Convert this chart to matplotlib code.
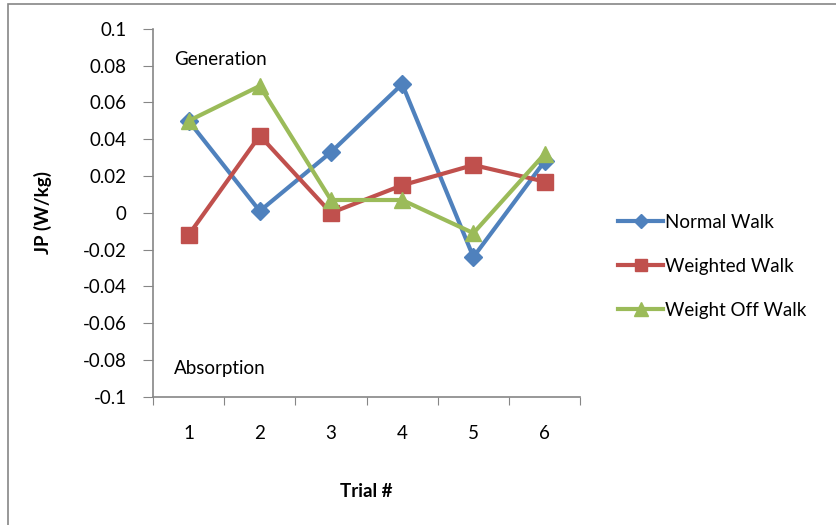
import matplotlib
matplotlib.use("Agg")
import matplotlib.pyplot as plt
from matplotlib.patches import Rectangle

# ------------------ DATA ------------------
trials = [1, 2, 3, 4, 5, 6]
normal_walk = [0.050, 0.001, 0.033, 0.070, -0.024, 0.028]
weighted_walk = [-0.012, 0.042, 0.000, 0.015, 0.026, 0.017]
weight_off_walk = [0.050, 0.069, 0.007, 0.007, -0.011, 0.032]
y_ticks = [-0.1, -0.08, -0.06, -0.04, -0.02, 0, 0.02, 0.04, 0.06, 0.08, 0.1]
y_tick_labels = ["-0.1", "-0.08", "-0.06", "-0.04", "-0.02", "0",
                 "0.02", "0.04", "0.06", "0.08", "0.1"]

# ------------------ STYLE ------------------
plt.rcParams['font.family'] = ['Lato', 'DejaVu Sans']
AXIS_GRAY = "#868686"
FS = 13.5

fig = plt.figure(figsize=(8.36, 5.25), dpi=100)
ax = fig.add_axes([0.183, 0.244, 0.511, 0.701])

# outer chart frame (runs off the bottom/right like the reference)
fig.patches.append(Rectangle((0.009, -0.02), 1.02, 1.013, transform=fig.transFigure,
                             fill=False, edgecolor=AXIS_GRAY, linewidth=1.2))

ax.plot(trials, normal_walk, color="#4F81BD", marker="D", markersize=9,
        linewidth=3, label="Normal Walk")
ax.plot(trials, weighted_walk, color="#C0504D", marker="s", markersize=11,
        linewidth=3, label="Weighted Walk")
ax.plot(trials, weight_off_walk, color="#9BBB59", marker="^", markersize=12,
        linewidth=3, label="Weight Off Walk")

ax.set_xlim(0.5, 6.5)
ax.set_ylim(-0.1, 0.1)
ax.set_yticks(y_ticks)
ax.set_yticklabels(y_tick_labels, fontsize=FS)

# category ticks between labels, labels centered
ax.set_xticks([t + 0.5 for t in [0] + trials])
ax.set_xticklabels([])
ax.set_xticks(trials, minor=True)
ax.set_xticklabels([str(t) for t in trials], minor=True, fontsize=FS)
ax.tick_params(axis="x", which="minor", length=0, pad=20)
ax.tick_params(axis="x", which="major", direction="out", length=6, color=AXIS_GRAY)
ax.tick_params(axis="y", direction="out", length=7, color=AXIS_GRAY, pad=12)

for side in ["top", "right"]:
    ax.spines[side].set_visible(False)
for side in ["left", "bottom"]:
    ax.spines[side].set_color(AXIS_GRAY)
    ax.spines[side].set_linewidth(1.2)

ax.set_ylabel("JP (W/kg)", fontsize=FS, fontweight="bold", labelpad=22)
ax.set_xlabel("Trial #", fontsize=FS, fontweight="bold", labelpad=30)

ax.text(0.05, 0.917, "Generation", transform=ax.transAxes, fontsize=FS, va="center")
ax.text(0.05, 0.078, "Absorption", transform=ax.transAxes, fontsize=FS, va="center")

ax.legend(loc="center left", bbox_to_anchor=(1.05, 0.355), frameon=False,
          fontsize=FS, labelspacing=1.45, handlelength=2.4, handletextpad=0.1,
          markerscale=0.8)

fig.savefig("out.png", dpi=100)
